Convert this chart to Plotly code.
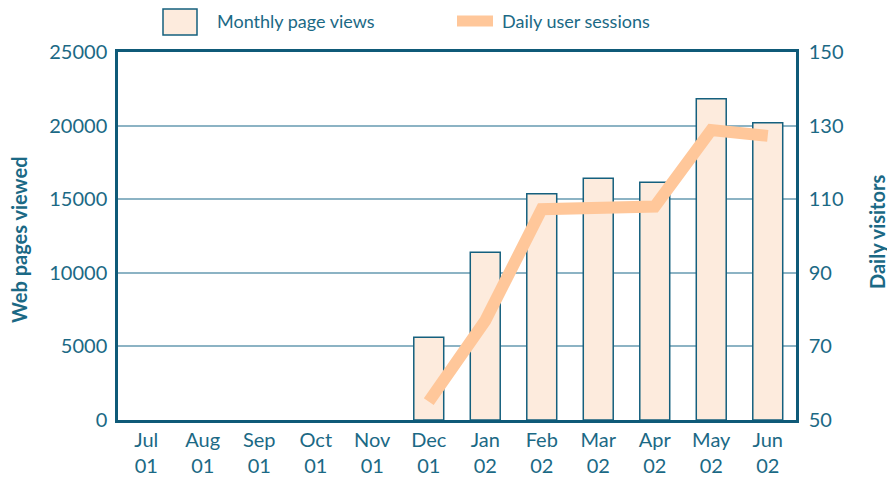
import plotly.graph_objects as go

months = ["Jul<br>01", "Aug<br>01", "Sep<br>01", "Oct<br>01", "Nov<br>01", "Dec<br>01",
          "Jan<br>02", "Feb<br>02", "Mar<br>02", "Apr<br>02", "May<br>02", "Jun<br>02"]
page_views = [None, None, None, None, None, 5620, 11390, 15370, 16420, 16150, 21830, 20200]
sessions = [None, None, None, None, None, 55, 77, 107.3, 108, 108, 128.8, 127.2]
left_ticks = [0, 5000, 10000, 15000, 20000, 25000]
right_ticks = [50, 70, 90, 110, 130, 150]

TXT = "#1b6985"
AX = "#0f5a78"
GRID = "#8cb3c4"
FONT = "Lato"

OFF = 8  # page body margin offset
W, H = 895 - OFF, 485 - OFF
L, T = 118 - OFF, 52 - OFF
PW, PH = 678, 368
R, B = W - L - PW, H - T - PH

def px(x):
    return (x - OFF - L) / PW

def py(y):
    return (T + PH - (y - OFF)) / PH

fig = go.Figure()
fig.add_trace(go.Bar(x=months, y=page_views, name="Monthly page views",
                     marker=dict(color="#fdebdd", line=dict(color="#15607e", width=1.5)),
                     yaxis="y"))
fig.add_trace(go.Scatter(x=months, y=sessions, name="Daily user sessions", mode="lines",
                         line=dict(color="#ffc79a", width=12), yaxis="y2",
                         connectgaps=False))

fig.update_layout(
    width=W, height=H,
    margin=dict(l=L, r=R, t=T, b=B, autoexpand=False),
    plot_bgcolor="white", paper_bgcolor="white",
    showlegend=False,
    bargap=0.47,
    font=dict(family=FONT, color=TXT, size=20),
    xaxis=dict(type="category", showline=True, linecolor=AX, linewidth=2.5, mirror=True,
               showgrid=False, ticks="", automargin=False,
               tickfont=dict(size=20, color=TXT)),
    yaxis=dict(range=[0, 25000], tickvals=left_ticks, ticktext=[str(v) for v in left_ticks],
               showline=True, linecolor=AX, linewidth=2.5,
               gridcolor=GRID, gridwidth=1.5, zeroline=False, ticks="", automargin=False,
               tickfont=dict(size=20, color=TXT), ticklabelstandoff=4),
    yaxis2=dict(range=[50, 150], tickvals=right_ticks, ticktext=[str(v) for v in right_ticks],
                overlaying="y", side="right", showline=True,
                linecolor=AX, linewidth=2.5, showgrid=False, zeroline=False, ticks="",
                automargin=False, tickfont=dict(size=20, color=TXT), ticklabelstandoff=6),
)

# axis titles
fig.add_annotation(xref="paper", yref="paper", x=px(19), y=py(240), text="<b>Web pages viewed</b>",
                   textangle=-90, showarrow=False, xanchor="center", yanchor="middle",
                   font=dict(size=20, color=TXT, family=FONT))
fig.add_annotation(xref="paper", yref="paper", x=px(877), y=py(232), text="<b>Daily visitors</b>",
                   textangle=-90, showarrow=False, xanchor="center", yanchor="middle",
                   font=dict(size=20, color=TXT, family=FONT))

# legend drawn manually
fig.add_shape(type="rect", xref="paper", yref="paper",
              x0=px(163), x1=px(197), y0=py(35), y1=py(9),
              fillcolor="#fdebdd", line=dict(color="#15607e", width=1.5))
fig.add_annotation(xref="paper", yref="paper", x=px(215), y=py(21),
                   text="Monthly page views", showarrow=False, xanchor="left", yanchor="middle",
                   font=dict(size=18, color=TXT, family=FONT))
fig.add_shape(type="line", xref="paper", yref="paper",
              x0=px(457), x1=px(493), y0=py(21), y1=py(21),
              line=dict(color="#ffc79a", width=11))
fig.add_annotation(xref="paper", yref="paper", x=px(500), y=py(21),
                   text="Daily user sessions", showarrow=False, xanchor="left", yanchor="middle",
                   font=dict(size=18, color=TXT, family=FONT))

fig.write_html("out.html")
